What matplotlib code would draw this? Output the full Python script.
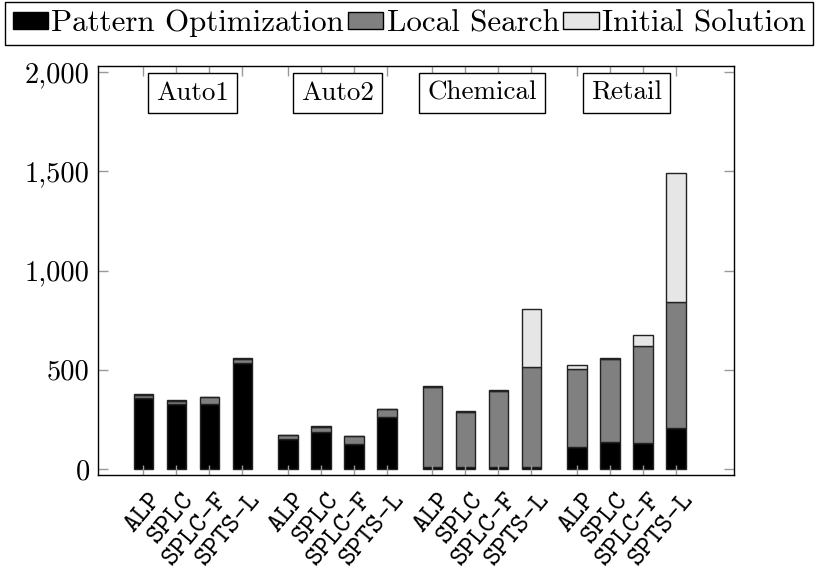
import matplotlib
matplotlib.use("Agg")
import matplotlib.pyplot as plt
from matplotlib.ticker import FuncFormatter, FixedLocator, NullFormatter
from matplotlib.patches import Patch
import matplotlib.transforms as mtransforms

groups = ['Auto1', 'Auto2', 'Chemical', 'Retail']
methods = ['ALP', 'SPLC', 'SPLC-F', 'SPTS-L']
pattern_opt = [360, 330, 328, 533, 150, 187, 126, 261, 12, 12, 12, 12, 112, 136, 132, 206]
local_search = [15, 15, 35, 22, 22, 25, 42, 40, 403, 275, 380, 504, 390, 420, 488, 637]
initial_sol = [3, 3, 2, 5, 2, 3, 1, 4, 3, 3, 8, 289, 21, 5, 53, 648]
y_ticks = [0, 500, 1000, 1500, 2000]

plt.rcParams['font.family'] = ['cmr10', 'DejaVu Serif']
plt.rcParams['mathtext.fontset'] = 'cm'
plt.rcParams['axes.formatter.use_mathtext'] = True

fig = plt.figure(figsize=(8.18, 5.81), dpi=100)
ax = fig.add_axes([98/818, 1-475/581, (734-98)/818, (475-66)/581])

group_step = 4.38
xs = []
labels = []
for g in range(len(groups)):
    for i, m in enumerate(methods):
        xs.append(g*group_step + i)
        labels.append(m)

w = 0.59
edge = dict(edgecolor='#222222', linewidth=1.0)
ax.bar(xs, pattern_opt, w, color='black', **edge)
bottom3 = [a + b for a, b in zip(pattern_opt, local_search)]
ax.bar(xs, local_search, w, bottom=pattern_opt, color='#808080', **edge)
ax.bar(xs, initial_sol, w, bottom=bottom3, color='#e6e6e6', **edge)

ax.set_xlim(-1.373, 17.9)
ax.set_ylim(-30, 2031)
ax.yaxis.set_major_locator(FixedLocator(y_ticks))
ax.yaxis.set_major_formatter(FuncFormatter(lambda v, p: f'{int(v):,}'))
ax.set_xticks(xs)
ax.xaxis.set_major_formatter(NullFormatter())

trans = mtransforms.blended_transform_factory(ax.transData, ax.transAxes) + \
    mtransforms.ScaledTranslation(18/100, -24/100, fig.dpi_scale_trans)
for x, lab in zip(xs, labels):
    ax.text(x, 0, lab, transform=trans, rotation=50, rotation_mode='anchor',
            ha='right', va='baseline', family=['cmtt10', 'DejaVu Sans Mono'],
            fontsize=20, clip_on=False)

ax.tick_params(axis='both', direction='in', length=7, width=1.0, color='#999999',
               top=True, right=True)
ax.tick_params(axis='y', labelsize=20.5, pad=6)
for s in ax.spines.values():
    s.set_color('black')
    s.set_linewidth(1.0)

for g, name in enumerate(groups):
    cx = g*group_step + 1.5
    ax.text(cx, 1895, name, ha='center', va='center', fontsize=19.5,
            bbox=dict(boxstyle='square,pad=0.3', facecolor='white', edgecolor='black', linewidth=1.0))

handles = [Patch(facecolor='black', edgecolor='black'),
           Patch(facecolor='#808080', edgecolor='black'),
           Patch(facecolor='#e6e6e6', edgecolor='black')]
leg = fig.legend(handles, ['Pattern Optimization', 'Local Search', 'Initial Solution'],
                 loc='upper center', bbox_to_anchor=(0.5, 1.0), ncol=3, fontsize=22.3,
                 frameon=True, fancybox=False, edgecolor='black', framealpha=1,
                 handlelength=1.15, handleheight=0.45, handletextpad=0.1, columnspacing=0.12,
                 borderpad=0.25, borderaxespad=0.05)
leg.get_frame().set_linewidth(1.0)

fig.savefig('out.png', dpi=100)
